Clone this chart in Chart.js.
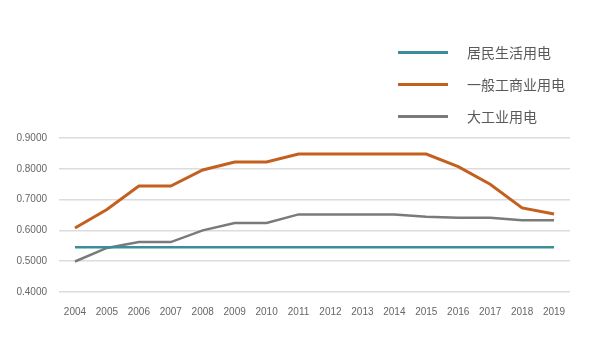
<!DOCTYPE html>
<html>
<head>
<meta charset="utf-8">
<script src="https://cdn.jsdelivr.net/npm/chart.js@4/dist/chart.umd.min.js"></script>
<style>
  html, body { margin: 0; padding: 0; background: #fff; }
  #wrap { width: 596px; height: 344px; position: relative; }
</style>
</head>
<body>
<div id="wrap"><canvas id="priceChart"></canvas></div>
<script>
const years = ['2004', '2005', '2006', '2007', '2008', '2009', '2010', '2011', '2012', '2013', '2014', '2015', '2016', '2017', '2018', '2019'];
const residential = [0.5453, 0.5453, 0.5453, 0.5453, 0.5453, 0.5453, 0.5453, 0.5453, 0.5453, 0.5453, 0.5453, 0.5453, 0.5453, 0.5453, 0.5453, 0.5453];
const commercial = [0.608, 0.668, 0.744, 0.744, 0.796, 0.822, 0.822, 0.848, 0.848, 0.848, 0.848, 0.848, 0.807, 0.750, 0.673, 0.653];
const industrial = [0.499, 0.543, 0.562, 0.562, 0.600, 0.624, 0.624, 0.652, 0.652, 0.652, 0.652, 0.644, 0.641, 0.641, 0.633, 0.633];
const seriesNames = ['居民生活用电', '一般工商业用电', '大工业用电'];
const yTicks = [0.4, 0.5, 0.6, 0.7, 0.8, 0.9];

// legend stacked in the top right corner, like the original
const sideLegend = {
  id: 'sideLegend',
  afterDraw(chart) {
    const ctx = chart.ctx;
    ctx.save();
    chart.data.datasets.forEach((ds, i) => {
      const y = 52.5 + i * 32;
      ctx.strokeStyle = ds.borderColor;
      ctx.lineWidth = 3;
      ctx.beginPath();
      ctx.moveTo(398, y);
      ctx.lineTo(448, y);
      ctx.stroke();
      ctx.fillStyle = '#595959';
      ctx.font = '14px "Noto Sans CJK SC", sans-serif';
      ctx.textBaseline = 'middle';
      ctx.fillText(ds.label, 467, y);
    });
    ctx.restore();
  }
};

function buildChart() {
  const ctx = document.getElementById('priceChart');
  new Chart(ctx, {
    type: 'line',
    data: {
      labels: years,
      datasets: [
        { label: seriesNames[0], data: residential, borderColor: '#3b8d9a', borderWidth: 2.5 },
        { label: seriesNames[1], data: commercial, borderColor: '#c4601f', borderWidth: 3 },
        { label: seriesNames[2], data: industrial, borderColor: '#7a7a7a', borderWidth: 2.5 }
      ].map(d => Object.assign(d, { pointRadius: 0, tension: 0, fill: false }))
    },
    options: {
      responsive: true,
      maintainAspectRatio: false,
      animation: false,
      layout: { padding: { top: 138, right: 26, left: 0, bottom: 0 } },
      plugins: { legend: { display: false }, tooltip: { enabled: false } },
      scales: {
        x: {
          offset: true,
          grid: { display: false, drawTicks: false },
          border: { display: false },
          ticks: { color: '#666', padding: 14, maxRotation: 0, font: { size: 10, family: 'Liberation Sans' } },
          afterFit(scale) { scale.height = 52; }
        },
        y: {
          min: 0.4,
          max: 0.9,
          afterBuildTicks(scale) { scale.ticks = yTicks.map(v => ({ value: v })); },
          grid: { color: '#dcdcdc', lineWidth: 1.5, drawTicks: false },
          border: { display: false },
          ticks: { color: '#666', padding: 12, font: { size: 10, family: 'Liberation Sans' }, callback: v => Number(v).toFixed(4) },
          afterFit(scale) { scale.width = 59; }
        }
      }
    },
    plugins: [sideLegend]
  });
}

document.addEventListener('DOMContentLoaded', buildChart);
</script>
</body>
</html>
